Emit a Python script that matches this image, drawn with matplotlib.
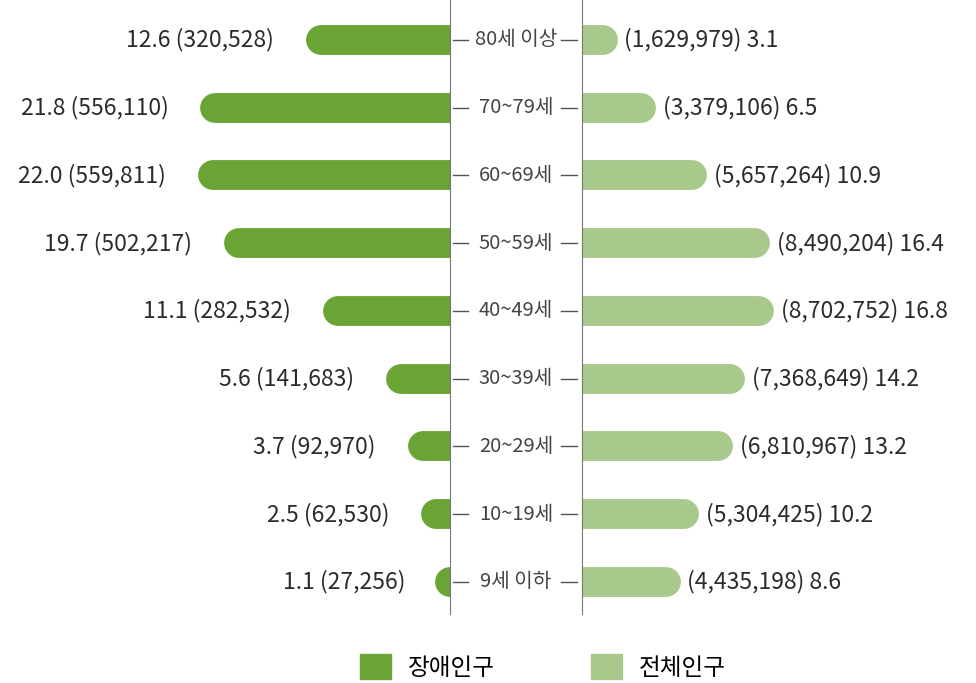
import matplotlib.pyplot as plt
from matplotlib.patches import Patch

plt.rcParams['font.family'] = ['Noto Sans CJK KR', 'DejaVu Sans']

# data
ages = ['80세 이상', '70~79세', '60~69세', '50~59세', '40~49세',
        '30~39세', '20~29세', '10~19세', '9세 이하']
dis_pct = [12.6, 21.8, 22.0, 19.7, 11.1, 5.6, 3.7, 2.5, 1.1]
dis_cnt = [320528, 556110, 559811, 502217, 282532, 141683, 92970, 62530, 27256]
tot_pct = [3.1, 6.5, 10.9, 16.4, 16.8, 14.2, 13.2, 10.2, 8.6]
tot_cnt = [1629979, 3379106, 5657264, 8490204, 8702752, 7368649, 6810967, 5304425, 4435198]

dark = '#6aa434'
light = '#a8c98b'
txt = '#2b2b2b'

W, H = 976, 683
fig = plt.figure(figsize=(W / 100, H / 100), dpi=100)

px_per_pct = 11.45
xl, xr = 450, 582      # vertical divider lines (px)
top, bot = 0, 614
row0, step = 40, 67.75
ylim = ((bot - row0) / step, (top - row0) / step)

axl = fig.add_axes([0, 1 - bot / H, xl / W, (bot - top) / H])
axc = fig.add_axes([xl / W, 1 - bot / H, (xr - xl) / W, (bot - top) / H])
axr = fig.add_axes([xr / W, 1 - bot / H, (W - xr) / W, (bot - top) / H])

axl.set_xlim(xl / px_per_pct, 0)
axr.set_xlim(0, (W - xr) / px_per_pct)
axc.set_xlim(0, 1)
for ax in (axl, axc, axr):
    ax.set_ylim(*ylim)
    ax.set_xticks([])
    ax.set_yticks([])
    for s in ax.spines.values():
        s.set_visible(False)
    ax.patch.set_visible(False)
axl.spines['right'].set_visible(True)
axr.spines['left'].set_visible(True)
axl.spines['right'].set_color('#777777')
axr.spines['left'].set_color('#777777')

lw = 21.5  # bar thickness in points
r_pct = (lw / 2) * (100 / 72) / px_per_pct  # cap radius in % units

for i in range(len(ages)):
    # left: disabled population
    axl.plot([-5, max(dis_pct[i] - r_pct, 0.01)], [i, i], color=dark, lw=lw,
             solid_capstyle='round', clip_on=True)
    axl.annotate(f'{dis_pct[i]:.1f} ({dis_cnt[i]:,})', (dis_pct[i], i),
                 xytext=(-23, 0), textcoords='offset points',
                 ha='right', va='center', fontsize=16.5, color=txt)
    # right: total population
    axr.plot([-5, tot_pct[i] - r_pct], [i, i], color=light, lw=lw,
             solid_capstyle='round', clip_on=True)
    axr.annotate(f'({tot_cnt[i]:,}) {tot_pct[i]:.1f}', (tot_pct[i], i),
                 xytext=(5, 0), textcoords='offset points',
                 ha='left', va='center', fontsize=16.5, color=txt)
    # center age label with dashes
    axc.text(0.5, i, ages[i], ha='center', va='center', fontsize=14.5, color='#444444')
    axc.plot([0.02, 0.14], [i, i], color='#555555', lw=1)
    axc.plot([0.84, 0.96], [i, i], color='#555555', lw=1)

handles = [Patch(color=dark, label='장애인구'), Patch(color=light, label='전체인구')]
fig.legend(handles=handles, loc='center', bbox_to_anchor=(543 / W, 1 - 667 / H), ncol=2,
           frameon=False, handlelength=1.3, handleheight=1.2,
           handletextpad=0.7, columnspacing=4.1,
           prop={'family': ['Noto Sans CJK KR'], 'size': 17})

fig.savefig('out.png', dpi=100)
